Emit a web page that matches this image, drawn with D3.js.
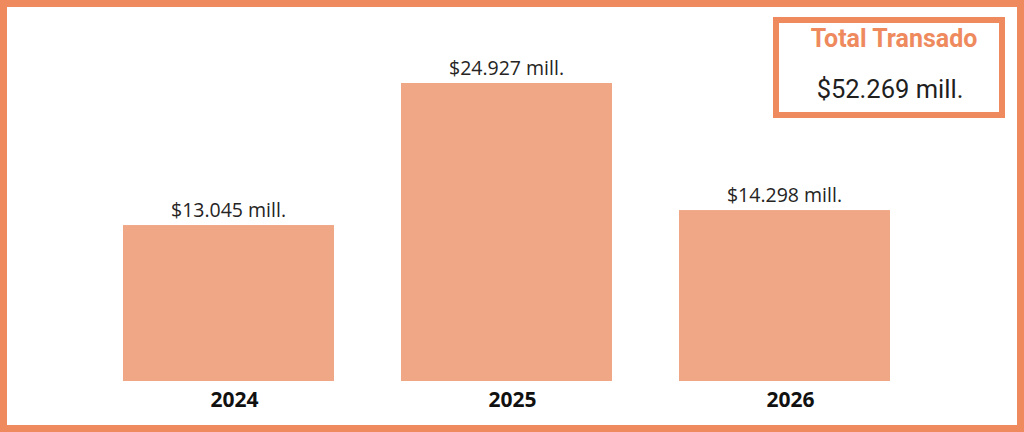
<!DOCTYPE html>
<html><head><meta charset="utf-8">
<script src="https://cdn.jsdelivr.net/npm/d3@7/dist/d3.min.js"></script>
<style>html,body{margin:0;padding:0;background:#fff;overflow:hidden}</style>
</head><body>
<svg id="c" width="1024" height="432"></svg>
<script>
const years = ["2024", "2025", "2026"];
const values = [13.045, 24.927, 14.298];
const valueLabels = ["$13.045 mill.", "$24.927 mill.", "$14.298 mill."];
const totalTitle = "Total Transado";
const totalLabel = "$52.269 mill.";

const svg = d3.select("#c");
const W = 1024, H = 432;
svg.append("rect").attr("x",0).attr("y",0).attr("width",W).attr("height",H).attr("fill","#fff");
// outer border
svg.append("rect").attr("x",3.5).attr("y",3.5).attr("width",W-7).attr("height",H-7)
  .attr("fill","none").attr("stroke","#EE8A5E").attr("stroke-width",7);

const x = d3.scaleBand().domain(years).range([123, 890]).paddingInner(0.241).paddingOuter(0);
const y = d3.scaleLinear().domain([0, 24.927]).range([381, 83]);

svg.selectAll("rect.bar").data(values).join("rect").attr("class","bar")
  .attr("x",(d,i)=>x(years[i])).attr("y",d=>y(d))
  .attr("width",x.bandwidth()).attr("height",d=>y(0)-y(d))
  .attr("fill","#F0A786");

svg.selectAll("text.val").data(values).join("text").attr("class","val")
  .attr("x",(d,i)=>x(years[i])+x.bandwidth()/2).attr("y",d=>y(d)-8)
  .attr("text-anchor","middle").attr("font-family","'Open Sans', sans-serif")
  .attr("font-size",19.5).attr("fill","#252423").text((d,i)=>valueLabels[i]);

const xAxis = svg.append("g").attr("transform","translate(0,381)")
  .call(d3.axisBottom(x).tickSize(0).tickPadding(7));
xAxis.select(".domain").remove();
xAxis.selectAll("text").attr("font-family","'Open Sans', sans-serif").attr("font-weight","bold")
  .attr("font-size",21).attr("fill","#111").attr("dx",6).attr("dy","0.9em");

// total card
svg.append("rect").attr("x",776).attr("y",20).attr("width",226).attr("height",95)
  .attr("fill","#fff").attr("stroke","#EE8A5E").attr("stroke-width",6);
svg.append("text").attr("x",894).attr("y",47).attr("text-anchor","middle")
  .attr("font-family","Roboto, sans-serif").attr("font-weight","bold").attr("font-size",25)
  .attr("fill","#EE8A5E").text(totalTitle);
svg.append("text").attr("x",890).attr("y",98).attr("text-anchor","middle")
  .attr("font-family","Roboto, sans-serif").attr("font-size",25.5)
  .attr("fill","#1f1f1f").text(totalLabel);
</script>
</body></html>
